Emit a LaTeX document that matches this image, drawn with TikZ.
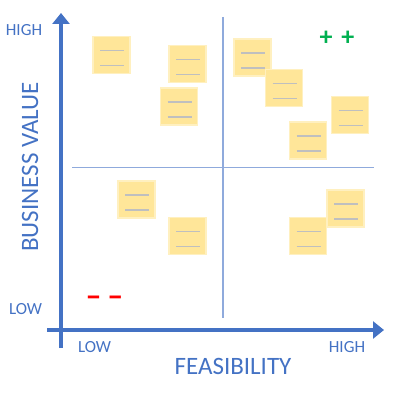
\documentclass[tikz,border=0pt]{standalone}
\usepackage{fontspec}
\setmainfont{Carlito}
\usetikzlibrary{arrows.meta}
\definecolor{axisblue}{HTML}{4472C4}
\definecolor{quadblue}{HTML}{8FAADC}
\definecolor{notefill}{HTML}{FFE699}
\definecolor{noteedge}{HTML}{FFF0C0}
\definecolor{notelines}{HTML}{BFBFBF}
\definecolor{plusgreen}{HTML}{00B050}
\tikzset{
  axis/.style={draw=axisblue, line width=3.5pt, -{Triangle[width=17pt,length=11pt]}},
  quad/.style={draw=quadblue, line width=1.3pt},
  lbl/.style={text=axisblue, font=\fontsize{17}{17}\selectfont, inner sep=0pt, anchor=base},
  title/.style={text=axisblue, font=\fontsize{25}{25}\selectfont, inner sep=0pt, anchor=base},
  note/.style={fill=notefill, draw=noteedge, line width=1.2pt, minimum size=37pt, inner sep=0pt,
    path picture={
      \draw[notelines, line width=1.1pt] ([xshift=7pt,yshift=-14pt]path picture bounding box.north west) -- ++(24pt,0);
      \draw[notelines, line width=1.1pt] ([xshift=7pt,yshift=-29pt]path picture bounding box.north west) -- ++(24pt,0);
    }},
}
\begin{document}
\begin{tikzpicture}[x=1pt,y=-1pt]
\useasboundingbox (0,0) rectangle (397,396);
% quadrant lines
\coordinate (vt) at (223,17);
\coordinate (vb) at (223,318);
\coordinate (hl) at (72,167.5);
\coordinate (hr) at (374,167.5);
\draw[quad] (vt) -- (vb);
\draw[quad] (hl) -- (hr);
% axes
\coordinate (ys) at (61,348);
\coordinate (ye) at (61,13);
\coordinate (xs) at (47,330);
\coordinate (xe) at (384,330);
\draw[axis] (ys) -- (ye);
\draw[axis] (xs) -- (xe);
% notes
\node[note] (n1) at (111.5,55) {};
\node[note] (n2) at (187.5,64) {};
\node[note] (n3) at (179,106.5) {};
\node[note] (n4) at (252.5,57.5) {};
\node[note] (n5) at (284,88) {};
\node[note] (n6) at (350,115) {};
\node[note] (n7) at (308,140.5) {};
\node[note] (n8) at (136.5,199.5) {};
\node[note] (n9) at (187.5,236) {};
\node[note] (n11) at (345.5,208.5) {};
\node[note] (n10) at (308,236) {};
% labels
\node[lbl] (yhigh) at (24,36) {HIGH};
\node[lbl] (ylow) at (25.5,314) {LOW};
\node[lbl] (xlow) at (94.5,352) {LOW};
\node[lbl] (xhigh) at (347,352) {HIGH};
\node[title] (xt) at (233,374) {FEASIBILITY};
\node[title, rotate=90] (yt) at (38,167) {BUSINESS VALUE};
\node[text=plusgreen, font=\fontsize{26}{26}\selectfont\bfseries, inner sep=0pt] (pp) at (337,38.5) {+\hspace{9pt}+};
\node[text=red, font=\fontsize{32}{32}\selectfont\bfseries, inner sep=0pt] (mm) at (104.5,301) {–\hspace{6pt}–};
\end{tikzpicture}
\end{document}
